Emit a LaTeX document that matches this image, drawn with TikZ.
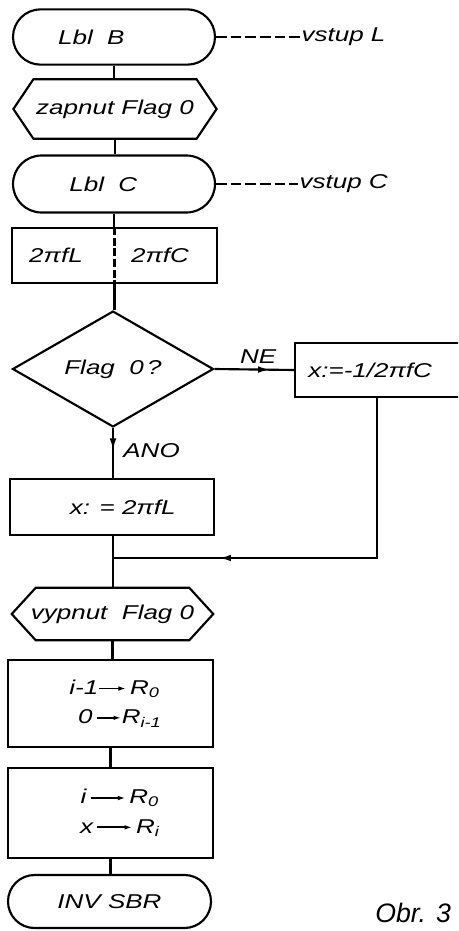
\documentclass[tikz,border=0pt]{standalone}
\usepackage{fontspec}
\setmainfont{Liberation Sans}[FakeStretch=1.3]
\newfontfamily\plainsans{Liberation Sans}
\usetikzlibrary{shapes.misc,shapes.geometric,arrows.meta,decorations.markings}
\newcommand\tarr[1]{\tikz[baseline=-0.55ex]\draw[line width=1.3pt,-{Latex[length=5.5pt,width=3.5pt]}] (0pt,0pt) -- (#1pt,0pt);}
\begin{document}
\begin{tikzpicture}[x=0.75pt,y=-0.75pt,
  ln/.style={line width=1.6pt},
  txt/.style={font=\fontsize{15}{18}\selectfont\itshape},
  term/.style={rounded rectangle,draw,ln,txt,minimum width=151.5pt,minimum height=41.5pt,inner sep=0pt},
  proc/.style={rectangle,draw,ln,txt,minimum width=153.5pt,inner sep=0pt},
  hexn/.style={rectangle,draw=none,txt,minimum width=152pt,inner sep=0pt},
  dec/.style={diamond,draw,ln,txt,minimum width=150.75pt,minimum height=84pt,inner sep=0pt},
  lab/.style={txt,inner sep=1pt},
  dsh/.style={ln,dash pattern=on 8pt off 3pt},
  midarr/.style={postaction={decorate},decoration={markings,mark=at position #1 with {\arrow{Latex[length=9pt,width=5pt]}}}}
]
\useasboundingbox (0,0) rectangle (458,931);
\clip (0,0) rectangle (458,931);

\node[term] (lblB) at (114,37) {Lbl\ \ B\kern34pt};
\node[lab,anchor=west] (vL) at (300,37) {vstup L};
\draw[dsh] (lblB.east) -- (vL.west);

\node[hexn,minimum height=44.25pt] (zap) at (115,109) {zapnut Flag 0};
\draw[ln] (zap.west) -- ([xshift=15pt]zap.north west) -- ([xshift=-15pt]zap.north east) -- (zap.east) -- ([xshift=-15pt]zap.south east) -- ([xshift=15pt]zap.south west) -- cycle;

\node[term,minimum height=42.75pt] (lblC) at (114,184) {Lbl\ \ C\kern16pt};
\node[lab,anchor=west] (vC) at (298,184) {vstup C};
\draw[dsh] (lblC.east) -- (vC.west);

\node[proc,minimum height=41.25pt] (b1) at (114.5,255.5) {};
\node[lab] (fL) at (56,255.5) {2πfL};
\node[lab] (fC) at (160,255.5) {2πfC};
\draw[ln,dash pattern=on 6pt off 2pt] (b1.north) -- (b1.south);

\node[dec] (dia) at (113,369) {Flag\ \ 0\,?};

\node[proc,minimum width=135pt,minimum height=40.5pt,text width=115pt,align=left,inner xsep=10pt] (ne) at (385,370) {x:=-1/2πfC};

\node[proc,minimum width=153pt,minimum height=42pt] (bx) at (112,507) {\kern16pt x: = 2πfL};

\coordinate (join) at (113,558);
\coordinate (rt) at (377,558);

\node[hexn,minimum width=150.75pt,minimum height=39pt] (vyp) at (112.5,614) {vypnut\ \ Flag 0};
\draw[ln] (vyp.west) -- ([xshift=18pt]vyp.north west) -- ([xshift=-18pt]vyp.north east) -- (vyp.east) -- ([xshift=-18pt]vyp.south east) -- ([xshift=18pt]vyp.south west) -- cycle;

\node[proc,minimum height=65.25pt,align=center] (b3) at (110.5,703.5) {\kern6pt i-1\tarr{20}\,R\textsubscript{0}\\[4pt]\kern14pt 0\,\tarr{18}R\textsubscript{i-1}};
\node[proc,minimum height=67.5pt,align=center] (b4) at (110.5,813) {\kern14pt i\,\tarr{26}\,R\textsubscript{0}\\[4pt]\kern14pt x\,\tarr{26}\,R\textsubscript{i}};
\node[term,minimum width=152.25pt,minimum height=39.75pt] (inv) at (109.5,901.5) {INV SBR};

\node[anchor=west,inner sep=0pt,font=\fontsize{20}{24}\selectfont\plainsans\itshape] (obr) at (375,913) {Obr. 3};

% connectors
\draw[ln] (lblB.south) -- (lblB.south |- zap.north);
\draw[ln] (zap.south) -- (zap.south |- lblC.north);
\draw[ln] (lblC.south) -- (lblC.south |- b1.north);
\draw[ln] (b1.south) -- (b1.south |- dia.north);
\draw[ln,midarr=0.7] (dia.east) -- (ne.west) node[lab,pos=0.55,above=3pt] {NE};
\draw[ln,midarr=0.45] (dia.south) -- (dia.south |- bx.north) node[lab,pos=0.45,right=6pt] {ANO};
\draw[ln,midarr=0.75] (ne.south -| rt) -- (rt) -- (join);
\draw[ln] (bx.south -| join) -- (join) -- (join |- vyp.north);
\draw[ln] (vyp.south) -- (vyp.south |- b3.north);
\draw[ln] (b3.south) -- (b3.south |- b4.north);
\draw[ln] (b4.south) -- (b4.south |- inv.north);
\end{tikzpicture}
\end{document}
